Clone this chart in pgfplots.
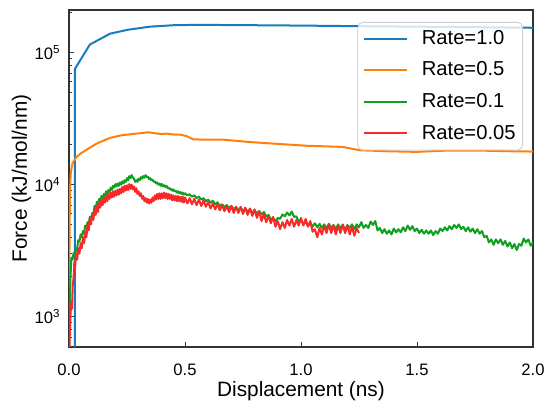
\documentclass[border=0pt]{standalone}
\usepackage{pgfplots}
\pgfplotsset{compat=1.18}
\usepackage{fontspec}
\setmainfont{Liberation Sans}
\definecolor{cblue}{RGB}{23,123,192}
\definecolor{corange}{RGB}{255,127,14}
\definecolor{cgreen}{RGB}{16,160,32}
\definecolor{cred}{RGB}{250,40,40}
\begin{document}
\begin{tikzpicture}
\begin{axis}[
  at={(0,0)}, anchor=south west,
  scale only axis, width=232pt, height=168.5pt,
  ymode=log, xmin=0, xmax=2, ymin=590, ymax=2.1e5,
  axis line style={black!80, line width=0.6pt},
  xtick={0,0.5,1,1.5,2}, xticklabels={0.0,0.5,1.0,1.5,2.0},
  ytick={1000,10000,100000},
  yticklabels={10\textsuperscript{3},10\textsuperscript{4},10\textsuperscript{5}},
  minor ytick={600,700,800,900,2000,3000,4000,5000,6000,7000,8000,9000,20000,30000,40000,50000,60000,70000,80000,90000,200000},
  tick align=inside, tick pos=left,
  major tick length=2.5pt, minor tick length=1.4pt,
  tick style={black!80, line width=0.5pt},
  ticklabel style={font=\fontsize{8.3}{10}\selectfont},
  xticklabel style={yshift=-5pt},
  yticklabel style={xshift=-0.7pt},
  xlabel={Displacement (ns)}, ylabel={Force (kJ/mol/nm)},
  every axis x label/.style={at={([yshift=-25pt]axis description cs:0.5,0)}, anchor=base, font=\fontsize{10.4}{12}\selectfont},
  every axis y label/.style={at={([xshift=-21pt]axis description cs:0,0.5)}, anchor=base, rotate=90, font=\fontsize{10.4}{12}\selectfont},
  legend style={at={(1,1)}, anchor=north east, xshift=-5pt, yshift=-6pt,
    draw=black!20, rounded corners=2.5pt, fill=white, fill opacity=0.8, text opacity=1, draw opacity=1,
    font=\fontsize{10.1}{12}\selectfont, row sep=5.2pt, column sep=6pt, inner xsep=2.5pt, inner ysep=3pt,
    nodes={inner sep=1pt}},
  legend cell align=left,
  legend image code/.code={\draw[#1] (0pt,0pt) -- (21.5pt,0pt);},
  every axis plot/.append style={line width=1pt, line join=round, mark=none},
]
\addplot[cblue] coordinates {
(0.025,300) (0.025,75000) (0.09,115000) (0.177,139000) (0.256,149000) (0.349,157000)
(0.45,161000) (0.54,162000) (0.7,161500) (1.0,160000) (1.3,158000) (1.6,156500) (2.0,154000)
};
\addlegendentry{Rate=1.0}
\addplot[corange] coordinates {
(0,400) (0.002,3000) (0.004,9000) (0.008,12500) (0.015,14500) (0.03,16000) (0.05,17200)
(0.076,18400) (0.12,20500) (0.177,22600) (0.23,23700) (0.277,24200) (0.306,24500) (0.342,24900)
(0.37,24500) (0.392,24200) (0.42,24300) (0.457,23900) (0.48,23900) (0.507,23300) (0.536,22000)
(0.6,21900) (0.665,21900) (0.78,21000) (0.909,20300) (1.024,19700) (1.18,19300) (1.254,18200)
(1.37,17900) (1.498,17700) (1.628,18100) (1.772,18100) (1.9,17900) (2.0,17800)
};
\addlegendentry{Rate=0.5}
\addplot[cgreen] coordinates {
(0.000,550) (0.003,1200) (0.006,1900) (0.010,2800) (0.015,2700) (0.020,3050) (0.025,2850)
(0.030,3200) (0.035,3300) (0.040,3800) (0.045,3700) (0.050,4200) (0.055,4000) (0.060,4450)
(0.065,4250) (0.070,4900) (0.075,4700) (0.080,5200) (0.085,5000) (0.090,5700) (0.095,5500)
(0.100,6100) (0.105,5900) (0.110,6900) (0.115,6600) (0.120,7400) (0.125,7100) (0.130,7800)
(0.135,7500) (0.140,8200) (0.145,7900) (0.150,8500) (0.155,8200) (0.160,8900) (0.165,8500)
(0.170,9100) (0.175,8800) (0.180,9500) (0.185,9100) (0.190,9800) (0.195,9500) (0.200,10100)
(0.205,9700) (0.210,10200) (0.215,9800) (0.220,10400) (0.225,10000) (0.230,10600) (0.235,10200)
(0.240,10800) (0.245,10500) (0.250,11200) (0.255,10800) (0.260,11600) (0.265,11200) (0.270,11800)
(0.275,11300) (0.280,11100) (0.285,10500) (0.290,10800) (0.295,10500) (0.300,11100) (0.305,10800)
(0.310,11400) (0.315,11100) (0.320,11600) (0.325,11300) (0.330,11800) (0.335,11400) (0.340,11500)
(0.345,11000) (0.350,11200) (0.355,10800) (0.360,10900) (0.365,10500) (0.370,10600) (0.375,10200)
(0.380,10400) (0.385,10000) (0.390,10200) (0.395,9800) (0.400,10100) (0.405,9700) (0.410,9900)
(0.415,9600) (0.420,9800) (0.425,9400) (0.430,9500) (0.435,9200) (0.440,9300) (0.445,9000)
(0.450,9200) (0.455,8900) (0.460,9000) (0.465,8700) (0.470,8900) (0.475,8600) (0.480,8800)
(0.485,8500) (0.490,8700) (0.495,8400)
(0.50,8600) (0.51,8300) (0.52,8450) (0.53,8100) (0.54,8300) (0.55,7900) (0.56,8100) (0.57,7700)
(0.58,7900) (0.59,7500) (0.60,7700) (0.61,7300) (0.62,7550) (0.63,7100) (0.64,7350) (0.65,6900)
(0.66,7100) (0.67,6750) (0.68,7000) (0.69,6650) (0.70,6900) (0.71,6500) (0.72,6750) (0.73,6400)
(0.74,6700) (0.75,6300) (0.76,6600) (0.77,6250) (0.78,6500) (0.79,6150) (0.80,6400) (0.81,6050)
(0.82,6300) (0.83,5950) (0.84,6200) (0.85,5750) (0.86,5900) (0.87,5450) (0.88,5600) (0.89,5250)
(0.90,5600) (0.91,5500) (0.92,5950) (0.93,5750) (0.94,6150) (0.95,5850) (0.96,6250) (0.97,5700)
(0.98,5750) (0.99,5250) (1.00,5450) (1.01,5000) (1.02,5250) (1.03,4850) (1.04,5150) (1.05,4800)
(1.06,5100) (1.07,4750) (1.08,5050) (1.09,4700) (1.10,5000) (1.11,4650) (1.12,5050) (1.13,4700)
(1.14,4950) (1.15,4600) (1.16,5000) (1.17,4650) (1.18,4950) (1.19,4550) (1.20,4950) (1.21,4700)
(1.22,5000) (1.23,4600) (1.24,5000) (1.25,4750) (1.26,5200) (1.27,4700) (1.28,4950) (1.29,4700)
(1.30,5250) (1.31,4950) (1.32,5300) (1.33,4500) (1.34,4700) (1.35,4300) (1.36,4600) (1.37,4250)
(1.38,4500) (1.39,4200) (1.40,4650) (1.41,4350) (1.42,4600) (1.43,4350) (1.44,4750) (1.45,4450)
(1.46,4900) (1.47,4550) (1.48,4850) (1.49,4450) (1.50,4650) (1.51,4300) (1.52,4550) (1.53,4250)
(1.54,4500) (1.55,4250) (1.56,4500) (1.57,4150) (1.58,4450) (1.59,4250) (1.60,4650) (1.61,4450)
(1.62,4750) (1.63,4500) (1.64,4850) (1.65,4600) (1.66,4950) (1.67,4700) (1.68,5000) (1.69,4600)
(1.70,4800) (1.71,4450) (1.72,4750) (1.73,4400) (1.74,4650) (1.75,4300) (1.76,4600) (1.77,4250)
(1.78,4450) (1.79,4000) (1.80,4100) (1.81,3650) (1.82,3850) (1.83,3500) (1.84,3850) (1.85,3600)
(1.86,3850) (1.87,3500) (1.88,3750) (1.89,3400) (1.90,3650) (1.91,3300) (1.92,3550) (1.93,3200)
(1.94,3550) (1.95,3450) (1.96,3900) (1.97,3650) (1.98,3850) (1.99,3450) (2.00,3650)
};
\addlegendentry{Rate=0.1}
\addplot[cred] coordinates {
(0.000,400) (0.003,700) (0.006,1000) (0.010,1300) (0.013,1150) (0.016,1700) (0.020,2000)
(0.023,2600) (0.026,2300) (0.030,3000) (0.035,2700) (0.040,3300) (0.045,3000) (0.050,3600)
(0.055,3300) (0.060,4000) (0.065,3600) (0.070,4400) (0.075,4000) (0.080,5000) (0.085,4500)
(0.090,5600) (0.095,5000) (0.100,6000) (0.105,5400) (0.110,6500) (0.115,5900) (0.120,6900)
(0.125,6200) (0.130,7300) (0.135,6700) (0.140,7700) (0.145,7000) (0.150,8000) (0.155,7300)
(0.160,8300) (0.165,7500) (0.170,8500) (0.175,7800) (0.180,8700) (0.185,8000) (0.190,8900)
(0.195,8100) (0.200,9000) (0.205,8300) (0.210,9200) (0.215,8400) (0.220,9300) (0.225,8600)
(0.230,9600) (0.235,8800) (0.240,9800) (0.245,9000) (0.250,9900) (0.255,9100) (0.260,10100)
(0.265,9300) (0.270,10000) (0.275,9200) (0.280,9700) (0.285,8800) (0.290,9400) (0.295,8500)
(0.300,8900) (0.305,8200) (0.310,8600) (0.315,7800) (0.320,8200) (0.325,7500) (0.330,7900)
(0.335,7300) (0.340,7800) (0.345,7200) (0.350,7700) (0.355,7300) (0.360,8000) (0.365,7500)
(0.370,8300) (0.375,7700) (0.380,8500) (0.385,7800) (0.390,8600) (0.395,7800) (0.400,8600)
(0.405,7900) (0.410,8700) (0.415,7900) (0.420,8600) (0.425,7800) (0.430,8500) (0.435,7800)
(0.440,8400) (0.445,7600) (0.450,8300) (0.455,7600) (0.460,8200) (0.465,7500) (0.470,8200)
(0.475,7500) (0.480,8100) (0.485,7400) (0.490,8100) (0.495,7300) (0.500,8000)
(0.51,7200) (0.52,7900) (0.53,7100) (0.54,7800) (0.55,7000) (0.56,7700) (0.57,6900) (0.58,7600)
(0.59,6800) (0.60,7400) (0.61,6600) (0.62,7200) (0.63,6500) (0.64,7100) (0.65,6400) (0.66,7000)
(0.67,6300) (0.68,6900) (0.69,6200) (0.70,6900) (0.71,6100) (0.72,6800) (0.73,6100) (0.74,6800)
(0.75,6000) (0.76,6700) (0.77,5900) (0.78,6600) (0.79,5800) (0.80,6500) (0.81,5600) (0.82,6300)
(0.83,5300) (0.84,6000) (0.85,5200) (0.86,5800) (0.87,5100) (0.88,5700) (0.89,4800) (0.90,5300)
(0.91,4600) (0.92,5200) (0.93,4700) (0.94,5400) (0.95,4900) (0.96,5500) (0.97,4800) (0.98,5400)
(0.99,4900) (1.00,5600) (1.01,4900) (1.02,5500) (1.03,4800) (1.04,5300) (1.05,4400) (1.06,4600)
(1.07,4000) (1.08,4700) (1.09,4200) (1.10,4900) (1.11,4300) (1.12,5000) (1.13,4300) (1.14,4900)
(1.15,4200) (1.16,4900) (1.17,4300) (1.18,5000) (1.19,4300) (1.20,4900) (1.21,4200) (1.22,4800)
(1.23,4100) (1.24,4700) (1.25,4300)
};
\addlegendentry{Rate=0.05}
\end{axis}
\pgfresetboundingbox
\path[use as bounding box] (-34.5pt,-31.5pt) rectangle (240.5pt,173.5pt);
\end{tikzpicture}
\end{document}
